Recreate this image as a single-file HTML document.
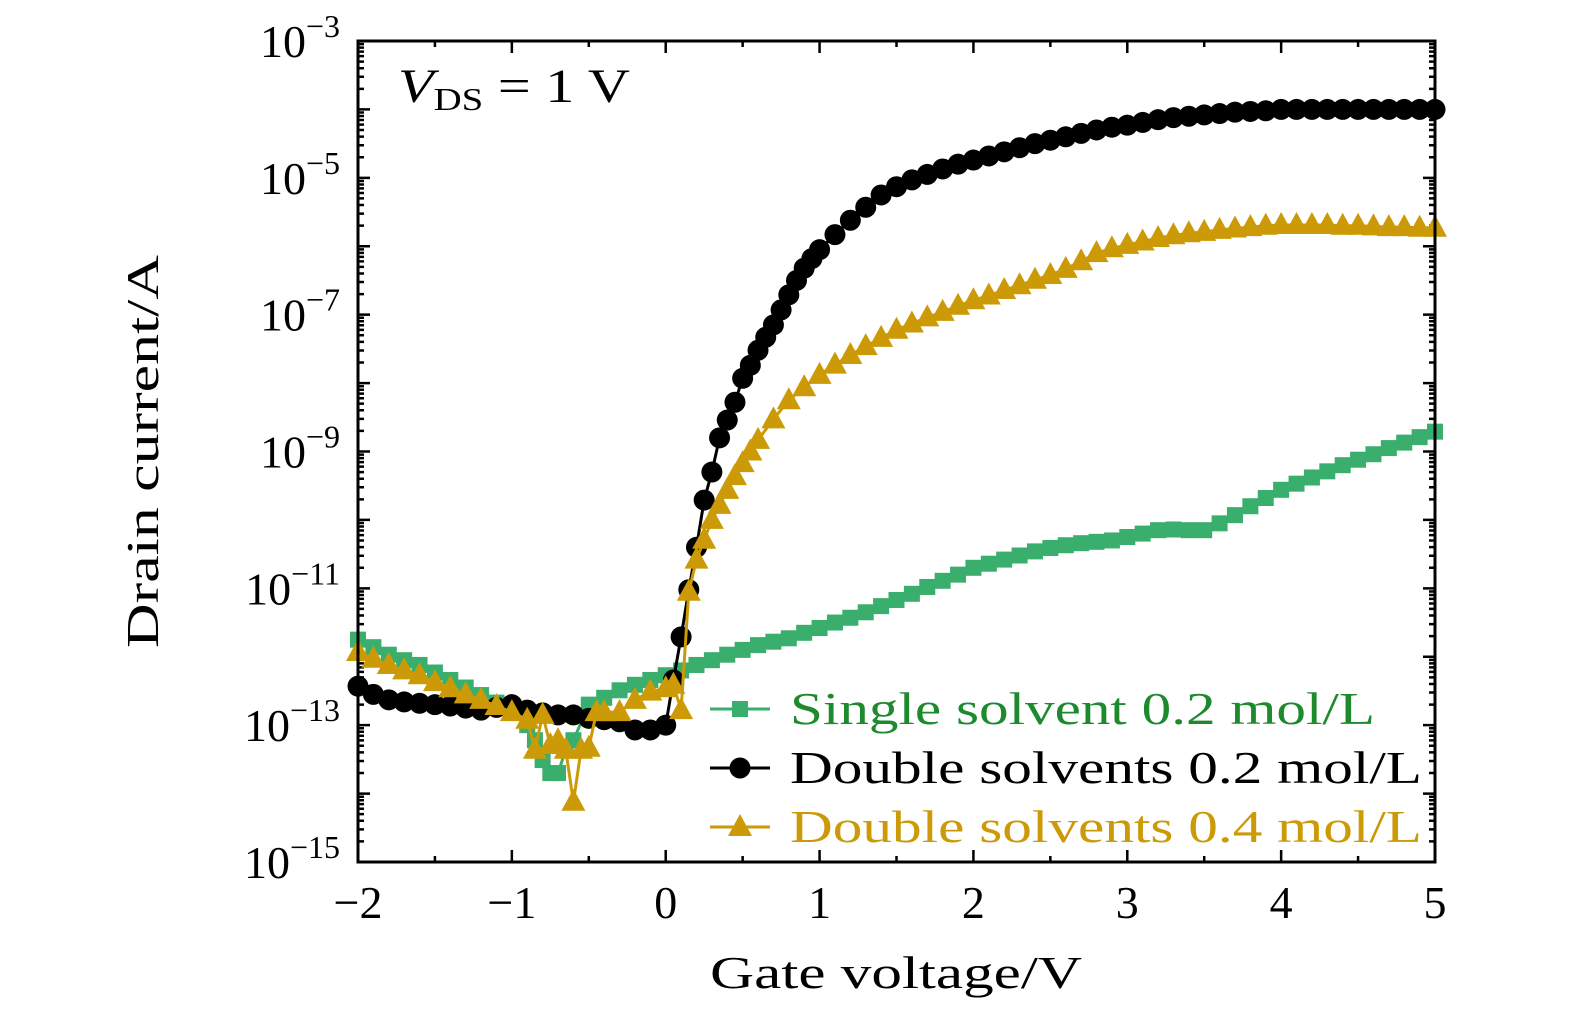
<!DOCTYPE html>
<html><head><meta charset="utf-8"><style>
html,body{margin:0;padding:0;background:#fff;overflow:hidden;}
svg{display:block;font-family:"Liberation Serif",serif;}
</style></head><body>
<svg id="chart" width="1575" height="1014">
<g id="plot"></g>
<text x="398" y="102" font-size="48" textLength="232" lengthAdjust="spacingAndGlyphs"><tspan font-style="italic">V</tspan><tspan font-size="32" dy="8">DS</tspan><tspan dy="-8"> = 1 V</tspan></text>
<text x="710" y="988" font-size="46" textLength="372" lengthAdjust="spacingAndGlyphs">Gate voltage/V</text>
<text transform="translate(158,648) rotate(-90)" font-size="46" textLength="393" lengthAdjust="spacingAndGlyphs">Drain current/A</text>
</svg>
<script>
const blackV=[-2,-1.9,-1.8,-1.7,-1.6,-1.5,-1.4,-1.3,-1.2,-1.1,-1,-0.9,-0.8,-0.7,-0.6,-0.5,-0.4,-0.3,-0.2,-0.1,0,0.05,0.1,0.15,0.2,0.25,0.3,0.35,0.4,0.45,0.5,0.55,0.6,0.65,0.7,0.75,0.8,0.85,0.9,0.95,1,1.1,1.2,1.3,1.4,1.5,1.6,1.7,1.8,1.9,2,2.1,2.2,2.3,2.4,2.5,2.6,2.7,2.8,2.9,3,3.1,3.2,3.3,3.4,3.5,3.6,3.7,3.8,3.9,4,4.1,4.2,4.3,4.4,4.5,4.6,4.7,4.8,4.9,5];
const blackLogI=[-12.43,-12.55,-12.63,-12.66,-12.68,-12.70,-12.72,-12.75,-12.78,-12.74,-12.70,-12.78,-12.82,-12.85,-12.85,-12.9,-12.92,-12.95,-13.07,-13.07,-13.0,-12.34,-11.71,-11.02,-10.4,-9.71,-9.3,-8.8,-8.54,-8.28,-7.93,-7.74,-7.52,-7.33,-7.15,-6.93,-6.71,-6.5,-6.32,-6.18,-6.05,-5.83,-5.62,-5.43,-5.25,-5.13,-5.03,-4.95,-4.87,-4.80,-4.74,-4.68,-4.62,-4.56,-4.50,-4.45,-4.40,-4.35,-4.30,-4.26,-4.23,-4.19,-4.15,-4.12,-4.10,-4.08,-4.06,-4.04,-4.03,-4.02,-4.0,-4.0,-4.0,-4.0,-4.0,-4.0,-4.0,-4.0,-4.0,-4.0,-4.0];
const goldV=[-2,-1.9,-1.8,-1.7,-1.6,-1.5,-1.4,-1.3,-1.2,-1.1,-1,-0.9,-0.85,-0.8,-0.75,-0.7,-0.65,-0.6,-0.55,-0.5,-0.45,-0.4,-0.3,-0.2,-0.1,0,0.05,0.1,0.15,0.2,0.25,0.3,0.35,0.4,0.45,0.5,0.55,0.6,0.7,0.8,0.9,1,1.1,1.2,1.3,1.4,1.5,1.6,1.7,1.8,1.9,2,2.1,2.2,2.3,2.4,2.5,2.6,2.7,2.8,2.9,3,3.1,3.2,3.3,3.4,3.5,3.6,3.7,3.8,3.9,4,4.1,4.2,4.3,4.4,4.5,4.6,4.7,4.8,4.9,5];
const goldLogI=[-11.93,-12.03,-12.12,-12.2,-12.27,-12.37,-12.46,-12.55,-12.63,-12.72,-12.81,-12.92,-13.36,-12.85,-13.29,-13.22,-13.36,-14.12,-13.36,-13.33,-12.81,-12.81,-12.81,-12.63,-12.51,-12.46,-12.41,-12.78,-11.05,-10.58,-10.29,-10.0,-9.78,-9.56,-9.36,-9.17,-9.0,-8.83,-8.53,-8.25,-8.06,-7.88,-7.73,-7.59,-7.46,-7.34,-7.22,-7.13,-7.04,-6.96,-6.87,-6.79,-6.72,-6.64,-6.57,-6.49,-6.42,-6.33,-6.22,-6.1,-6.03,-5.98,-5.93,-5.88,-5.84,-5.81,-5.79,-5.76,-5.74,-5.72,-5.70,-5.69,-5.69,-5.69,-5.69,-5.7,-5.7,-5.71,-5.72,-5.72,-5.73,-5.73];
const greenV=[-2,-1.9,-1.8,-1.7,-1.6,-1.5,-1.4,-1.3,-1.2,-1.1,-1,-0.9,-0.85,-0.8,-0.75,-0.7,-0.65,-0.6,-0.5,-0.4,-0.3,-0.2,-0.1,0,0.1,0.2,0.3,0.4,0.5,0.6,0.7,0.8,0.9,1,1.1,1.2,1.3,1.4,1.5,1.6,1.7,1.8,1.9,2,2.1,2.2,2.3,2.4,2.5,2.6,2.7,2.8,2.9,3,3.1,3.2,3.3,3.4,3.5,3.6,3.7,3.8,3.9,4,4.1,4.2,4.3,4.4,4.5,4.6,4.7,4.8,4.9,5];
const greenLogI=[-11.75,-11.86,-11.97,-12.05,-12.12,-12.23,-12.34,-12.45,-12.56,-12.67,-12.78,-13.0,-13.22,-13.51,-13.7,-13.7,-13.36,-13.22,-12.7,-12.6,-12.49,-12.41,-12.34,-12.27,-12.2,-12.12,-12.05,-11.97,-11.9,-11.83,-11.78,-11.73,-11.65,-11.58,-11.5,-11.43,-11.35,-11.26,-11.17,-11.08,-10.98,-10.89,-10.8,-10.7,-10.64,-10.58,-10.52,-10.46,-10.41,-10.37,-10.34,-10.32,-10.3,-10.25,-10.2,-10.15,-10.14,-10.15,-10.15,-10.05,-9.93,-9.8,-9.68,-9.56,-9.47,-9.38,-9.29,-9.2,-9.12,-9.04,-8.95,-8.87,-8.79,-8.71];
const xTicks=[-2,-1,0,1,2,3,4,5];
const xTickLabels=["\u22122","\u22121","0","1","2","3","4","5"];
const yTickExps=[-3,-5,-7,-9,-11,-13,-15];

const NS="http://www.w3.org/2000/svg";
const L=358,R=1435,T=41,B=862;
const xs=v=>L+(v+2)/7*(R-L);
const ys=e=>T+(-3-e)/12*(B-T);
const g=document.getElementById('plot');
function el(tag,attrs,parent){const e=document.createElementNS(NS,tag);for(const k in attrs)e.setAttribute(k,attrs[k]);(parent||g).appendChild(e);return e;}

const tk=el('g',{});


let d='';
for(let e=-15;e<=-3;e++){
  const y=ys(e);d+=`M${L},${y}h12M${R},${y}h-12`;
  if(e<-3)for(let m=2;m<=9;m++){const yy=ys(e+Math.log10(m));d+=`M${L},${yy}h6M${R},${yy}h-6`;}
}
for(let v=-2;v<=5;v+=0.5){const x=xs(v);const len=Number.isInteger(v)?12:6;d+=`M${x},${B}v-${len}M${x},${T}v${len}`;}
el('path',{d:d,stroke:'#000','stroke-width':2.5,fill:'none'},tk);

function series(V,Y,color,kind,name){
  const grp=el('g',{});
  
  
  const pts=V.map((v,i)=>[xs(v),ys(Y[i])]);
  el('polyline',{points:pts.map(p=>p.join(',')).join(' '),fill:'none',stroke:color,'stroke-width':3},grp);
  pts.forEach(p=>marker(grp,p[0],p[1],color,kind));
}
function marker(parent,x,y,color,kind){
  let m;
  if(kind==='sq')m=el('rect',{x:x-8,y:y-8,width:16,height:16,fill:color},parent);
  else if(kind==='c')m=el('circle',{cx:x,cy:y,r:10.5,fill:color},parent);
  else m=el('polygon',{points:`${x},${y-13} ${x-12},${y+9} ${x+12},${y+9}`,fill:color},parent);
  
  
}
series(greenV,greenLogI,'#3aae6c','sq','series-single-0.2');
series(blackV,blackLogI,'#000','c','series-double-0.2');
series(goldV,goldLogI,'#cc9a06','t','series-double-0.4');

const fr=el('rect',{x:L,y:T,width:R-L,height:B-T,fill:'none',stroke:'#000','stroke-width':3});



xTicks.forEach((v,i)=>{
  const t=el('text',{x:xs(v),y:918,'font-size':46,'text-anchor':'middle'});
  t.textContent=xTickLabels[i];
  
  
});
yTickExps.forEach(e=>{
  const t=el('text',{x:340,y:ys(e)+16,'font-size':46,'text-anchor':'end'});
  
  
  const a=el('tspan',{},t);a.textContent='10';
  const b=el('tspan',{dy:-20,'font-size':32},t);b.textContent='\u2212'+Math.abs(e);
});

const legend=[['Single solvent 0.2 mol/L','#3aae6c','#1e8a2e','sq',709,585],['Double solvents 0.2 mol/L','#000','#000','c',768,632],['Double solvents 0.4 mol/L','#cc9a06','#cc9a06','t',827,632]];
legend.forEach(([txt,c,tc,k,y,w])=>{
  const lg=el('g',{});
  
  
  el('line',{x1:710,x2:770,y1:y,y2:y,stroke:c,'stroke-width':3},lg);
  marker(lg,740,y,c,k);
  const t=el('text',{x:790,y:y+15,'font-size':46,fill:tc,textLength:w,lengthAdjust:'spacingAndGlyphs'},lg);t.textContent=txt;
});
</script>
</body></html>
